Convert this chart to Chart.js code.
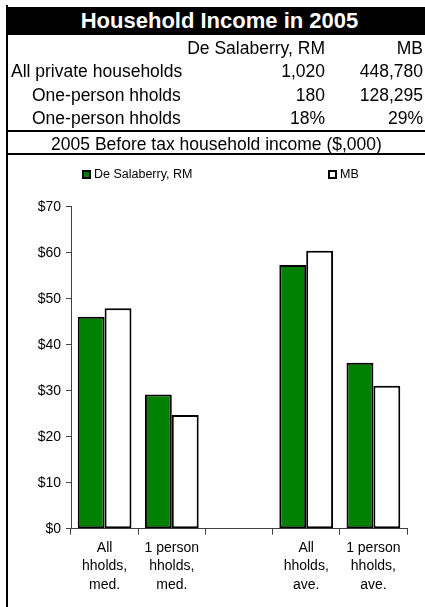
<!DOCTYPE html>
<html>
<head>
<meta charset="utf-8">
<script src="https://cdn.jsdelivr.net/npm/chart.js@4"></script>
<style>
  body { margin: 0; background: #fff; font-family: "Liberation Sans", Arial, sans-serif; color: #000; }
  #wrap { position: relative; width: 425px; height: 607px; overflow: hidden; }
  #chart { position: absolute; left: 0; top: 0; }
  .abs { position: absolute; white-space: nowrap; }
  .title { left: 6px; top: 7px; width: 427px; height: 28px; line-height: 28px; background: #000; color: #fff;
           font-weight: bold; font-size: 22px; text-align: center; }
  .cell { font-size: 17.5px; height: 22px; line-height: 22px; }
  .rule { left: 6px; width: 419px; height: 2px; background: #000; }
  .box { width: 9px; height: 9px; box-sizing: border-box; border: 2px solid #000; }
  .leg { font-size: 12.5px; height: 16px; line-height: 16px; }
</style>
</head>
<body>
<div id="wrap">
  <canvas id="chart" width="425" height="607"></canvas>
  <div id="texts"></div>
</div>
<script>
"use strict";

// Table above the chart
const tableTitle = "Household Income in 2005";
const tableColumns = ["De Salaberry, RM", "MB"];
const tableRowLabels = ["All private households", "One-person hholds", "One-person hholds"];
const tableColA = ["1,020", "180", "18%"];
const tableColB = ["448,780", "128,295", "29%"];
const chartTitle = "2005 Before tax household income ($,000)";

// Chart data
const categories = [
  ["All", "hholds,", "med."],
  ["1 person", "hholds,", "med."],
  "",
  ["All", "hholds,", "ave."],
  ["1 person", "hholds,", "ave."],
];
const seriesNames = ["De Salaberry, RM", "MB"];
const deSalaberryValues = [46.1, 29.2, null, 57.3, 36.1];
const mbValues = [47.9, 24.7, null, 60.4, 31.1];
const yTicks = [0, 10, 20, 30, 40, 50, 60, 70];

const FONT = '"Liberation Sans", Arial, sans-serif';

/**
 * Build the header table and legend as plain text divs
 */
function buildTexts() {
  const host = document.getElementById("texts");
  const add = (cls, style, text) => {
    const d = document.createElement("div");
    d.className = "abs " + cls;
    Object.assign(d.style, style);
    if (text != null) d.textContent = text;
    host.appendChild(d);
    return d;
  };

  add("title", {}, tableTitle);
  add("rule", { left: "6px", top: "5px", width: "2px", height: "602px" });

  // header row
  add("cell", { right: "100px", top: "37px" }, tableColumns[0]);
  add("cell", { right: "2px", top: "37px" }, tableColumns[1]);

  const rowTops = [60, 84, 107];
  tableRowLabels.forEach((lbl, i) => {
    add("cell", { left: i === 0 ? "11px" : "32px", top: rowTops[i] + "px" }, lbl);
    add("cell", { right: "100px", top: rowTops[i] + "px" }, tableColA[i]);
    add("cell", { right: "2px", top: rowTops[i] + "px" }, tableColB[i]);
  });

  add("rule", { top: "129.5px" });
  add("cell", { left: "8px", width: "417px", textAlign: "center", top: "132.5px" }, chartTitle);
  add("rule", { top: "153px" });

  // legend
  add("box", { left: "82px", top: "170px", background: "#008000" });
  add("leg", { left: "94px", top: "166px" }, seriesNames[0]);
  add("box", { left: "328px", top: "170px", background: "#fff" });
  add("leg", { left: "340px", top: "166px" }, seriesNames[1]);
}

/**
 * Grouped bar chart
 */
function initChart() {
  const ctx = document.getElementById("chart");
  new Chart(ctx, {
    type: "bar",
    data: {
      labels: categories,
      datasets: [
        {
          label: seriesNames[0],
          data: deSalaberryValues,
          backgroundColor: "#008000",
          borderColor: "#000",
          borderWidth: 2,
          borderSkipped: false,
        },
        {
          label: seriesNames[1],
          data: mbValues,
          backgroundColor: "#fff",
          borderColor: "#000",
          borderWidth: 2,
          borderSkipped: false,
        },
      ],
    },
    options: {
      responsive: false,
      animation: false,
      events: [],
      layout: { padding: { left: 0, right: 18, top: 206.7, bottom: 0 } },
      datasets: { bar: { categoryPercentage: 0.8, barPercentage: 1 } },
      plugins: { legend: { display: false }, tooltip: { enabled: false } },
      scales: {
        x: {
          grid: { offset: true, drawOnChartArea: false, tickLength: 6, color: "#404040" },
          border: { color: "#404040" },
          ticks: {
            color: "#000",
            font: { family: FONT, size: 14, lineHeight: 1.32 },
            padding: 4,
            maxRotation: 0,
            autoSkip: false,
          },
          afterFit: (s) => { s.height = 78.3; },
        },
        y: {
          min: yTicks[0],
          max: yTicks[yTicks.length - 1],
          afterBuildTicks: (s) => { s.ticks = yTicks.map((v) => ({ value: v })); },
          ticks: {
            callback: (v) => "$" + v,
            color: "#000",
            font: { family: FONT, size: 14 },
            padding: 5,
          },
          grid: { drawOnChartArea: false, tickLength: 5, color: "#404040" },
          border: { color: "#404040" },
          afterFit: (s) => { s.width = 71; },
        },
      },
    },
  });
}

buildTexts();
initChart();
</script>
</body>
</html>
